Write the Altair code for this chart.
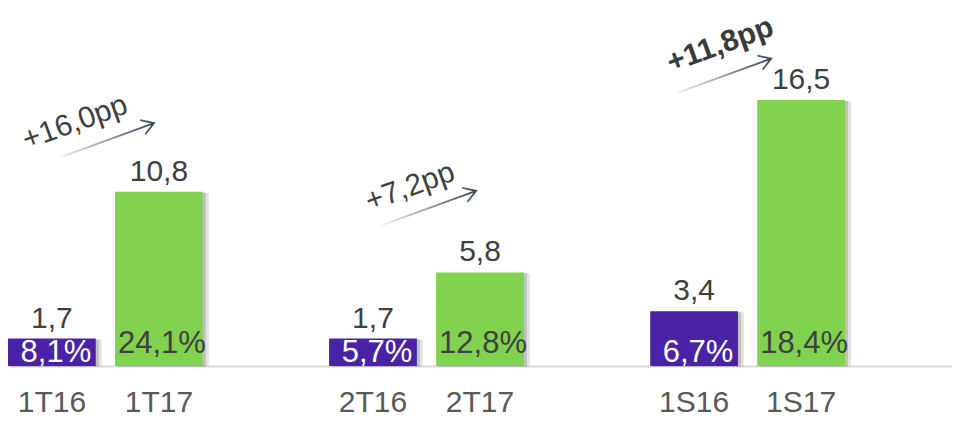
import altair as alt
import pandas as pd

# ---- data ----
categories = ["1T16", "1T17", "2T16", "2T17", "1S16", "1S17"]
years = ["2016", "2017", "2016", "2017", "2016", "2017"]
values = [1.7, 10.8, 1.7, 5.8, 3.4, 16.5]
shares = ["8,1%", "24,1%", "5,7%", "12,8%", "6,7%", "18,4%"]
axis_order = ["1T16", "1T17", "g1", "2T16", "2T17", "g2", "1S16", "1S17", "g3"]

ann_labels = ["+16,0pp", "+7,2pp", "+11,8pp"]
ann_anchor = ["1T17", "2T17", "1S17"]
ann_text_y = [15.1, 11.1, 19.9]
ann_arrow_y = [14.0, 9.8, 18.0]
ann_text_shift = [-40, -26, -37]
ann_arrow_shift = [-8, -7, -33]
ann_weight = ["normal", "normal", "bold"]

FONT = "Liberation Sans"
PURPLE = "#4a22a6"
GREEN = "#80d24f"
TEXT = "#404040"

df = pd.DataFrame({"cat": categories, "year": years, "value": values, "share": shares})
df["label"] = [f"{v:.1f}".replace(".", ",") for v in values]

W, H = 944, 358

xscale = alt.Scale(domain=axis_order, paddingInner=0.18, paddingOuter=0)
xaxis = alt.Axis(title=None, ticks=False, labelFontSize=30, labelColor="#595959",
                 labelFont=FONT, labelPadding=21, domainColor="#d9d9d9", domainWidth=2,
                 labelExpr="indexof(datum.label,'g')==0 ? '' : datum.label",
                 labelAngle=0, grid=False)
yscale = alt.Scale(domain=[0, 22.2], nice=False)

x = alt.X("cat:N", scale=xscale, axis=xaxis, sort=axis_order)

base = alt.Chart(df).encode(
    x=x,
    y=alt.Y("value:Q", scale=yscale, axis=None),
)

shadow2 = base.mark_bar(color="#d0d0d0", opacity=0.6, xOffset=6, yOffset=1)
shadow1 = base.mark_bar(color="#a8a8a8", opacity=0.6, xOffset=3, yOffset=1)
bars = base.mark_bar().encode(
    color=alt.Color("year:N", scale=alt.Scale(domain=["2016", "2017"], range=[PURPLE, GREEN]), legend=None)
)
vals = base.mark_text(font=FONT, fontSize=30, color=TEXT, baseline="alphabetic", dy=-11).encode(
    text="label:N"
)
pct_p = alt.Chart(df).transform_filter(alt.datum.year == "2016").mark_text(
    font=FONT, fontSize=31, color="white", baseline="alphabetic", dy=-4, dx=4
).encode(x=x, y=alt.Y("z:Q", scale=yscale, axis=None), text="share:N").transform_calculate(z="0")
pct_g = alt.Chart(df).transform_filter(alt.datum.year == "2017").mark_text(
    font=FONT, fontSize=31, color=TEXT, baseline="alphabetic", dy=-13, dx=3
).encode(x=x, y=alt.Y("z:Q", scale=yscale, axis=None), text="share:N").transform_calculate(z="0")

ARROW = "M-1,0L1,0M0.76,-0.15L1,0L0.76,0.15"
grad = alt.LinearGradient(
    gradient="linear",
    stops=[alt.GradientStop(color="#f0f2f4", offset=0),
           alt.GradientStop(color="#8a96a3", offset=0.55),
           alt.GradientStop(color="#3a4858", offset=1)],
    x1=0, x2=1, y1=0, y2=0,
)

layers = [shadow2, shadow1, bars, vals, pct_p, pct_g]
for i in range(len(ann_labels)):
    adf = pd.DataFrame({"cat": [ann_anchor[i]], "ty": [ann_text_y[i]],
                        "ay": [ann_arrow_y[i]], "txt": [ann_labels[i]]})
    xa = alt.X("cat:N", scale=xscale, axis=xaxis, sort=axis_order, bandPosition=0)
    t = alt.Chart(adf).mark_text(
        font=FONT, fontSize=30, angle=340, color="#3a3a3a" if ann_weight[i] == "bold" else TEXT,
        fontWeight=ann_weight[i], xOffset=ann_text_shift[i], align="center", baseline="middle"
    ).encode(x=xa, y=alt.Y("ty:Q", scale=yscale, axis=None), text="txt:N")
    a = alt.Chart(adf).mark_point(
        shape=ARROW, size=10000, angle=340, filled=False, strokeWidth=1.8,
        stroke=grad, opacity=1, xOffset=ann_arrow_shift[i]
    ).encode(x=xa, y=alt.Y("ay:Q", scale=yscale, axis=None))
    layers += [a, t]

chart = alt.layer(*layers).properties(width=W, height=H, padding=0).configure_view(stroke=None)

chart.save("out.html", embed_options={"renderer": "svg", "actions": False})
